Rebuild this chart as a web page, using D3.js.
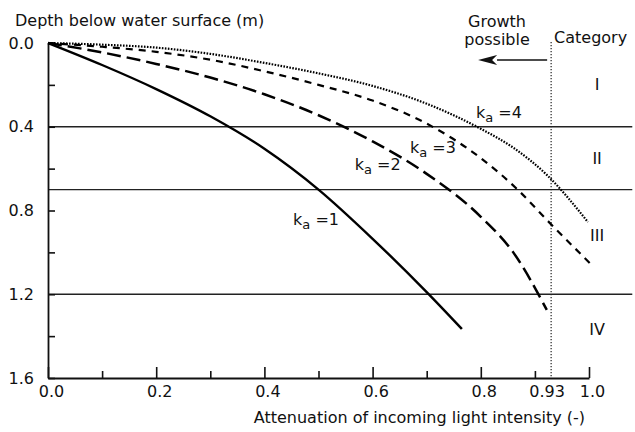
<!DOCTYPE html>
<html>
<head>
<meta charset="utf-8">
<script src="https://cdn.jsdelivr.net/npm/d3@7"></script>
<style>
  html, body { margin: 0; padding: 0; background: #fff; }
  svg { display: block; }
  text { font-family: "DejaVu Sans", "Open Sans", sans-serif; fill: #111; }
</style>
</head>
<body>
<svg id="chart" width="635" height="432"></svg>
<script>
// ---- data ----
// attenuation (x) and depth (y, metres) for each extinction coefficient ka
const ka1Att   = [0, 0.1, 0.2, 0.3, 0.4, 0.5, 0.6, 0.7, 0.765];
const ka1Depth = [0, 0.105, 0.22, 0.35, 0.505, 0.70, 0.935, 1.19, 1.366];
const ka2Att   = [0, 0.1, 0.2, 0.3, 0.4, 0.5, 0.6, 0.7, 0.8, 0.86, 0.922];
const ka2Depth = [0, 0.045, 0.10, 0.165, 0.245, 0.345, 0.47, 0.625, 0.83, 1.0, 1.275];
const ka3Att   = [0, 0.1, 0.2, 0.3, 0.4, 0.5, 0.6, 0.7, 0.8, 0.87, 0.922, 1.005];
const ka3Depth = [0, 0.018, 0.042, 0.08, 0.135, 0.20, 0.275, 0.385, 0.55, 0.705, 0.845, 1.06];
const ka4Att   = [0, 0.1, 0.2, 0.3, 0.4, 0.5, 0.6, 0.7, 0.8, 0.86, 0.922, 0.998];
const ka4Depth = [0, 0.008, 0.022, 0.052, 0.095, 0.145, 0.205, 0.29, 0.41, 0.50, 0.63, 0.855];

const kaValues = ["1", "2", "3", "4"];

const xMajorTicks = [0, 0.2, 0.4, 0.6, 0.8, 1.0];
const xMinorTicks = [0.1, 0.3, 0.5, 0.7, 0.9];
const xTickLabels = ["0.0", "0.2", "0.4", "0.6", "0.8", "1.0"];
const yMajorTicks = [0, 0.4, 0.8, 1.2, 1.6];
const yMinorTicks = [0.2, 0.6, 1.0, 1.4];
const yTickLabels = ["0.0", "0.4", "0.8", "1.2", "1.6"];

const categoryBounds = [0.4, 0.7, 1.2];           // depth boundaries
const categoryNames = ["I", "II", "III", "IV"];
const categoryMid = [0.2, 0.55, 0.92, 1.37];        // depth where numerals sit
const growthLimit = 0.93;
const growthLimitLabel = "0.93";

// ---- layout ----
const W = 635, H = 432;
const margin = {left: 48, right: 46, top: 43, bottom: 54};
const svg = d3.select("#chart");

const x = d3.scaleLinear().domain([0, 1]).range([margin.left, W - margin.right]);
const y = d3.scaleLinear().domain([0, 1.6]).range([margin.top, H - margin.bottom]);

const FS = 16;
const FONT = '"DejaVu Sans", sans-serif';

// category boundary lines
svg.append("g").selectAll("line").data(categoryBounds).join("line")
  .attr("x1", x(0)).attr("x2", x(1.08))
  .attr("y1", d => y(d)).attr("y2", d => y(d))
  .attr("stroke", "#222").attr("stroke-width", 1.3);

// growth limit dotted vertical line
svg.append("line")
  .attr("x1", x(growthLimit)).attr("x2", x(growthLimit))
  .attr("y1", y(0) - 1).attr("y2", y(1.6))
  .attr("stroke", "#222").attr("stroke-width", 1.2)
  .attr("stroke-dasharray", "1.2,1.8");

// axes
const xAxis = d3.axisBottom(x).tickValues(xMajorTicks)
  .tickFormat((d, i) => xTickLabels[i]).tickSizeInner(-11).tickSizeOuter(0).tickPadding(8);
const gx = svg.append("g").attr("transform", `translate(0,${y(1.6)})`).call(xAxis);
gx.select(".domain").attr("stroke", "#111").attr("stroke-width", 2);
gx.selectAll(".tick line").attr("stroke", "#111").attr("stroke-width", 1.6);
gx.selectAll(".tick text").attr("font-size", FS).attr("dx", 3)
  .attr("font-family", FONT).attr("fill", "#111");
// growth limit tick label
gx.append("text").attr("x", x(growthLimit) - 4).attr("y", 8).attr("dy", "0.71em")
  .attr("text-anchor", "middle").attr("font-size", FS).text(growthLimitLabel);

const xMinor = d3.axisBottom(x).tickValues(xMinorTicks).tickFormat("").tickSizeInner(-7).tickSizeOuter(0);
const gxm = svg.append("g").attr("transform", `translate(0,${y(1.6)})`).call(xMinor);
gxm.select(".domain").remove();
gxm.selectAll(".tick line").attr("stroke", "#111").attr("stroke-width", 1.6);

const yAxis = d3.axisLeft(y).tickValues(yMajorTicks)
  .tickFormat((d, i) => yTickLabels[i]).tickSizeInner(-7).tickSizeOuter(0).tickPadding(14);
const gy = svg.append("g").attr("transform", `translate(${x(0)},0)`).call(yAxis);
gy.select(".domain").attr("stroke", "#111").attr("stroke-width", 1.8);
gy.selectAll(".tick line").attr("stroke", "#111").attr("stroke-width", 1.6);
gy.selectAll(".tick text").attr("font-size", FS)
  .attr("font-family", FONT).attr("fill", "#111");

const yMinor = d3.axisLeft(y).tickValues(yMinorTicks).tickFormat("").tickSizeInner(-7).tickSizeOuter(0);
const gym = svg.append("g").attr("transform", `translate(${x(0)},0)`).call(yMinor);
gym.select(".domain").remove();
gym.selectAll(".tick line").attr("stroke", "#111").attr("stroke-width", 1.6);

// curves
const series = [
  {att: ka1Att, depth: ka1Depth, dash: null, w: 2.4},
  {att: ka2Att, depth: ka2Depth, dash: "14,6", w: 2.5},
  {att: ka3Att, depth: ka3Depth, dash: "7,6", w: 2.2},
  {att: ka4Att, depth: ka4Depth, dash: "1.6,1.4", w: 2.2}
];
const line = d3.line().x(d => x(d[0])).y(d => y(d[1])).curve(d3.curveMonotoneX);
series.forEach(s => {
  const pts = s.att.map((a, i) => [a, s.depth[i]]);
  svg.append("path").attr("d", line(pts))
    .attr("fill", "none").attr("stroke", "#000").attr("stroke-width", s.w)
    .attr("stroke-dasharray", s.dash);
});

// curve labels (anchor in data coordinates: attenuation, depth of baseline)
const labelAnchors = [[0.453, 0.87], [0.567, 0.605], [0.669, 0.525], [0.791, 0.358]];
kaValues.forEach((k, i) => {
  const t = svg.append("text")
    .attr("x", x(labelAnchors[i][0])).attr("y", y(labelAnchors[i][1]))
    .attr("font-size", FS);
  t.append("tspan").text("k");
  t.append("tspan").attr("font-size", 13).attr("dy", 4).text("a");
  t.append("tspan").attr("dy", -4).text(" =" + k);
});

// category numerals
svg.append("g").selectAll("text").data(categoryNames).join("text")
  .attr("x", x(1.015)).attr("y", (d, i) => y(categoryMid[i]))
  .attr("dy", "0.35em").attr("text-anchor", "middle").attr("font-size", FS)
  .text(d => d);

// header texts
svg.append("text").attr("x", x(1.003)).attr("y", 43).attr("text-anchor", "middle")
  .attr("font-size", FS).text("Category");
svg.append("text").attr("x", x(0.83)).attr("y", 27).attr("text-anchor", "middle")
  .attr("font-size", FS).text("Growth");
svg.append("text").attr("x", x(0.83)).attr("y", 45).attr("text-anchor", "middle")
  .attr("font-size", FS).text("possible");

// arrow pointing toward lower attenuation
const arrowY = 60;
svg.append("line")
  .attr("x1", x(growthLimit) - 4).attr("x2", x(0.83))
  .attr("y1", arrowY).attr("y2", arrowY)
  .attr("stroke", "#111").attr("stroke-width", 1.6);
const tipX = x(0.795);
svg.append("path")
  .attr("d", `M${tipX},${arrowY} L${tipX + 19},${arrowY - 5} L${tipX + 14},${arrowY} L${tipX + 19},${arrowY + 5} Z`)
  .attr("fill", "#111");

// axis titles
svg.append("text").attr("x", 15).attr("y", 26).attr("font-size", FS)
  .text("Depth below water surface (m)");
svg.append("text").attr("x", x(1.0) - 4).attr("y", 423).attr("text-anchor", "end")
  .attr("font-size", FS).text("Attenuation of incoming light intensity (-)");
</script>
</body>
</html>
